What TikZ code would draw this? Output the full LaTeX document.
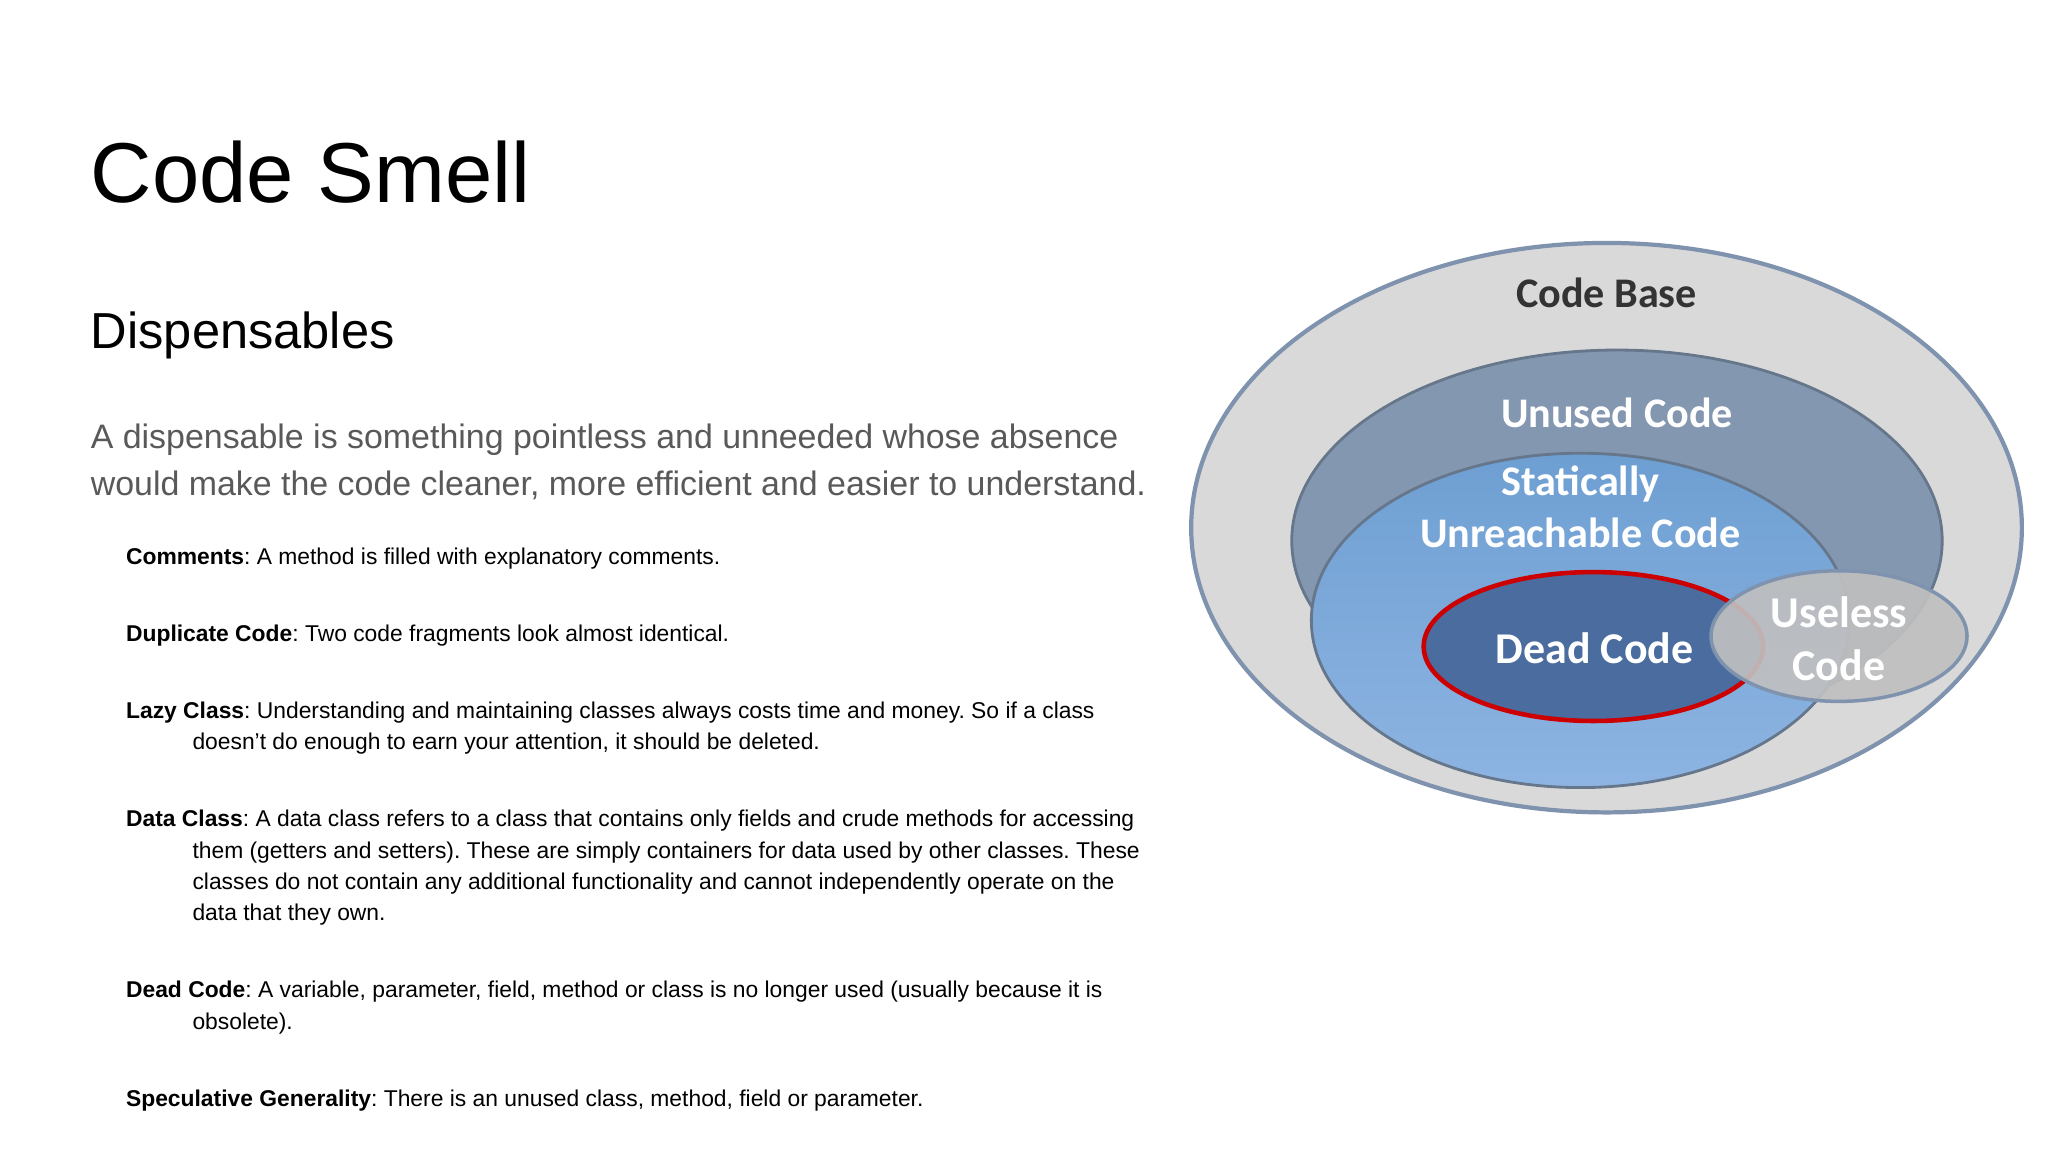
\documentclass[tikz,border=0pt]{standalone}
\usepackage{fontspec}
\setmainfont{Liberation Sans}
\newfontfamily\calib{Carlito}
\definecolor{txtgray}{HTML}{595959}
\definecolor{basegray}{HTML}{D9D9D9}
\definecolor{rimblue}{HTML}{7F93AE}
\definecolor{unusedc}{HTML}{8497B0}
\definecolor{staticc}{HTML}{6E9FD2}
\definecolor{staticlow}{HTML}{8DB4E2}
\definecolor{deadc}{HTML}{4B6C9E}
\definecolor{uselessc}{HTML}{BFBFBF}
\newcommand{\ind}{\hspace*{18.9pt}}
\tikzset{
  item/.style={anchor=base west, inner sep=0pt, font=\fontsize{6.5}{8.9}\selectfont\frenchspacing},
  dlabel/.style={font=\calib\bfseries\fontsize{12}{15}\selectfont, text=white, align=center, inner sep=0pt},
}
\begin{document}
\begin{tikzpicture}[x=0.013061cm,y=-0.013061cm]
\useasboundingbox[fill=white] (0,0) rectangle (1568,882);
% header text
\node[anchor=base west, inner sep=0pt, font=\fontsize{24.2}{28}\selectfont] (title) at (69,155) {Code Smell};
\node[anchor=base west, inner sep=0pt, font=\fontsize{14.4}{17}\selectfont] (sub) at (69,267) {Dispensables};
\node[anchor=base west, inner sep=0pt, align=left, text=txtgray, font=\fontsize{9.65}{13.3}\selectfont] (intro) at (69,379)
  {A dispensable is something pointless and unneeded whose absence\\would make the code cleaner, more efficient and easier to understand.};
% items
\node[item] (i1) at (96,432) {\begin{tabular}[t]{@{}l@{}}\textbf{Comments}: A method is filled with explanatory comments.\end{tabular}};
\node[item] (i2) at (96,491) {\begin{tabular}[t]{@{}l@{}}\textbf{Duplicate Code}: Two code fragments look almost identical.\end{tabular}};
\node[item] (i3) at (96,550) {\begin{tabular}[t]{@{}l@{}}\textbf{Lazy Class}: Understanding and maintaining classes always costs time and money. So if a class\\\ind doesn\symbol{39}t do enough to earn your attention, it should be deleted.\end{tabular}};
\node[item] (i4) at (96,633) {\begin{tabular}[t]{@{}l@{}}\textbf{Data Class}: A data class refers to a class that contains only fields and crude methods for accessing\\\ind them (getters and setters). These are simply containers for data used by other classes. These\\\ind classes do not contain any additional functionality and cannot independently operate on the\\\ind data that they own.\end{tabular}};
\node[item] (i5) at (96,764) {\begin{tabular}[t]{@{}l@{}}\textbf{Dead Code}: A variable, parameter, field, method or class is no longer used (usually because it is\\\ind obsolete).\end{tabular}};
\node[item] (i6) at (96,847) {\begin{tabular}[t]{@{}l@{}}\textbf{Speculative Generality}: There is an unused class, method, field or parameter.\end{tabular}};
% diagram
\fill[basegray, draw=rimblue, line width=1.2pt] (1230,404) ellipse [x radius=318, y radius=218];
\fill[unusedc, draw=rimblue!80!black, line width=0.8pt] (1238,414) ellipse [x radius=249, y radius=146];
\shade[top color=staticc, bottom color=staticlow, draw=rimblue!80!black, line width=0.8pt] (1210,475) ellipse [x radius=206, y radius=128];
\fill[deadc, draw=red!80!black, line width=1.3pt] (1220,495) ellipse [x radius=130, y radius=57];
\fill[uselessc, fill opacity=0.92, draw=rimblue, line width=1pt] (1408,487) ellipse [x radius=98, y radius=50];
\node[dlabel, text=black!80] (cb) at (1230,224) {Code Base};
\node[dlabel] (uc) at (1238,316) {Unused Code};
\node[dlabel] (sc) at (1210,388) {Statically\\[0pt]Unreachable Code};
\node[dlabel, font=\calib\bfseries\fontsize{12.5}{15}\selectfont] (dc) at (1221,496) {Dead Code};
\node[dlabel, font=\calib\bfseries\fontsize{12.5}{15}\selectfont] (ul) at (1408,489) {Useless\\[0pt]Code};
\end{tikzpicture}
\end{document}
